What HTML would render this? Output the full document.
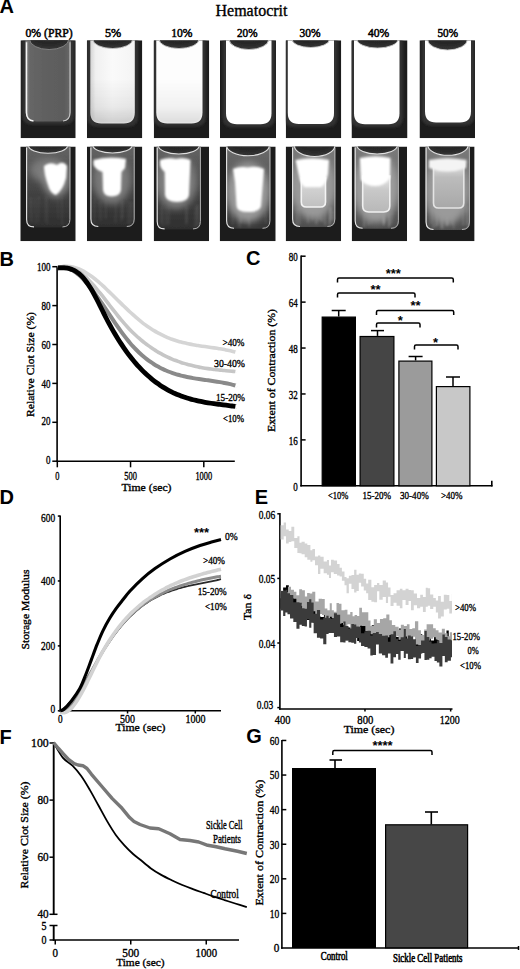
<!DOCTYPE html>
<html><head><meta charset="utf-8"><style>
html,body{margin:0;padding:0;background:#fff;}
svg{display:block;font-family:"Liberation Serif", serif;}
text{stroke:#000;stroke-width:0.35px;}
text[font-weight=bold]{stroke:none;}
</style></head><body>
<svg width="520" height="969" viewBox="0 0 520 969">
<rect width="520" height="969" fill="#fff"/>
<text x="-0.6" y="12.6" font-size="20" text-anchor="start" font-weight="bold" font-family='"Liberation Sans", sans-serif'>A</text>
<text x="-0.4" y="265.5" font-size="20" text-anchor="start" font-weight="bold" font-family='"Liberation Sans", sans-serif'>B</text>
<text x="246" y="265.3" font-size="20" text-anchor="start" font-weight="bold" font-family='"Liberation Sans", sans-serif'>C</text>
<text x="-0.4" y="503.7" font-size="20" text-anchor="start" font-weight="bold" font-family='"Liberation Sans", sans-serif'>D</text>
<text x="254.8" y="503.9" font-size="20" text-anchor="start" font-weight="bold" font-family='"Liberation Sans", sans-serif'>E</text>
<text x="-0.4" y="743.5" font-size="20" text-anchor="start" font-weight="bold" font-family='"Liberation Sans", sans-serif'>F</text>
<text x="246.2" y="743.3" font-size="20" text-anchor="start" font-weight="bold" font-family='"Liberation Sans", sans-serif'>G</text>
<text x="251.5" y="15.5" font-size="16" text-anchor="middle" textLength="72" lengthAdjust="spacingAndGlyphs">Hematocrit</text>
<text x="49.1" y="37" font-size="12" text-anchor="middle" textLength="47.2" lengthAdjust="spacingAndGlyphs" style="stroke-width:0.5px">0% (PRP)</text>
<text x="113.12" y="37" font-size="12" text-anchor="middle" textLength="16.25" lengthAdjust="spacingAndGlyphs" style="stroke-width:0.5px">5%</text>
<text x="181.88" y="37" font-size="12" text-anchor="middle" textLength="21.25" lengthAdjust="spacingAndGlyphs" style="stroke-width:0.5px">10%</text>
<text x="247.25" y="37" font-size="12" text-anchor="middle" textLength="20.5" lengthAdjust="spacingAndGlyphs" style="stroke-width:0.5px">20%</text>
<text x="310" y="37" font-size="12" text-anchor="middle" textLength="21" lengthAdjust="spacingAndGlyphs" style="stroke-width:0.5px">30%</text>
<text x="378.62" y="37" font-size="12" text-anchor="middle" textLength="21.25" lengthAdjust="spacingAndGlyphs" style="stroke-width:0.5px">40%</text>
<text x="447.75" y="37" font-size="12" text-anchor="middle" textLength="20.5" lengthAdjust="spacingAndGlyphs" style="stroke-width:0.5px">50%</text>
<defs>
<filter id="b05" x="-20%" y="-20%" width="140%" height="140%"><feGaussianBlur stdDeviation="0.5"/></filter>
<filter id="b1" x="-20%" y="-20%" width="140%" height="140%"><feGaussianBlur stdDeviation="1"/></filter>
<filter id="b2" x="-30%" y="-30%" width="160%" height="160%"><feGaussianBlur stdDeviation="2"/></filter>
<filter id="b3" x="-40%" y="-40%" width="180%" height="180%"><feGaussianBlur stdDeviation="3.5"/></filter>
<filter id="b5" x="-50%" y="-50%" width="200%" height="200%"><feGaussianBlur stdDeviation="5"/></filter>
<linearGradient id="gPRP" x1="0" y1="0" x2="1" y2="0">
 <stop offset="0" stop-color="#8a8a8a"/><stop offset="0.1" stop-color="#666"/><stop offset="0.5" stop-color="#5f5f5f"/><stop offset="0.85" stop-color="#5c5c5c"/><stop offset="1" stop-color="#6a6a6a"/>
</linearGradient>
<linearGradient id="g5" x1="0" y1="0" x2="1" y2="0">
 <stop offset="0" stop-color="#d4d4d4"/><stop offset="0.12" stop-color="#f0f0f0"/><stop offset="0.5" stop-color="#fafafa"/><stop offset="1" stop-color="#f4f4f4"/>
</linearGradient>
<radialGradient id="gMen" cx="0.5" cy="0.2" r="0.7">
 <stop offset="0" stop-color="#3a3a3a"/><stop offset="0.7" stop-color="#262626"/><stop offset="1" stop-color="#303030"/>
</radialGradient>
<linearGradient id="gBox5" x1="0" y1="0" x2="0" y2="1"><stop offset="0" stop-color="#ececec"/><stop offset="0.4" stop-color="#d0d0d0"/><stop offset="1" stop-color="#c0c0c0"/></linearGradient>
<linearGradient id="gBox6" x1="0" y1="0" x2="0" y2="1"><stop offset="0" stop-color="#e8e8e8"/><stop offset="0.4" stop-color="#c8c8c8"/><stop offset="1" stop-color="#b8b8b8"/></linearGradient>
<linearGradient id="gBox7" x1="0" y1="0" x2="0" y2="1"><stop offset="0" stop-color="#e4e4e4"/><stop offset="0.3" stop-color="#bcbcbc"/><stop offset="1" stop-color="#a8a8a8"/></linearGradient>
<linearGradient id="gShadeV" x1="0" y1="0" x2="0" y2="1"><stop offset="0" stop-color="#000" stop-opacity="0"/><stop offset="0.45" stop-color="#000" stop-opacity="0"/><stop offset="0.8" stop-color="#000" stop-opacity="0.08"/><stop offset="1" stop-color="#000" stop-opacity="0.22"/></linearGradient>
<linearGradient id="gWall" x1="0" y1="0" x2="0" y2="1">
 <stop offset="0" stop-color="#646464"/><stop offset="0.45" stop-color="#484848"/><stop offset="1" stop-color="#2e2e2e"/>
</linearGradient>
<linearGradient id="gWall2" x1="0" y1="0" x2="0" y2="1">
 <stop offset="0" stop-color="#6a6a6a"/><stop offset="0.5" stop-color="#555"/><stop offset="1" stop-color="#363636"/>
</linearGradient>
<linearGradient id="gWall3" x1="0" y1="0" x2="0" y2="1">
 <stop offset="0" stop-color="#7a7a7a"/><stop offset="0.5" stop-color="#6a6a6a"/><stop offset="1" stop-color="#4e4e4e"/>
</linearGradient>
</defs>
<clipPath id="cp1"><rect x="20.5" y="40.3" width="55.2" height="97.9"/></clipPath>
<g clip-path="url(#cp1)">
<rect x="20.5" y="40.3" width="55.2" height="97.9" fill="#1c1c1c"/>
<path d="M22,40.3 L22,114.5 Q22,124.5 32,124.5 L64.5,124.5 Q74.5,124.5 74.5,114.5 L74.5,40.3 Z" fill="#303030" filter="url(#b1)"/>
<path d="M25.5,40.3 L25.5,110.5 Q25.5,121.5 36.5,121.5 L60,121.5 Q71,121.5 71,110.5 L71,40.3 Z" fill="url(#gPRP)" filter="url(#b05)"/>
<path d="M26.5,42.3 L26.5,112.5 Q26.5,120.5 33.5,121" stroke="#f4f4f4" stroke-width="1.5" fill="none" filter="url(#b05)"/>
<path d="M70,42.3 L70,112.5 Q70,120.5 63,121" stroke="#c8c8c8" stroke-width="1.1" fill="none" filter="url(#b05)"/>
<ellipse cx="49.15" cy="39.3" rx="19.65" ry="10.2" fill="url(#gMen)" stroke="#8a8a8a" stroke-width="0.9" filter="url(#b05)"/>
</g>
<clipPath id="cp2"><rect x="86.9" y="40.3" width="55.4" height="97.9"/></clipPath>
<g clip-path="url(#cp2)">
<rect x="86.9" y="40.3" width="55.4" height="97.9" fill="#1c1c1c"/>
<path d="M86.8,40.3 L86.8,116.5 Q86.8,126.5 96.8,126.5 L128.3,126.5 Q138.3,126.5 138.3,116.5 L138.3,40.3 Z" fill="#303030" filter="url(#b1)"/>
<path d="M90.3,40.3 L90.3,112.5 Q90.3,123.5 101.3,123.5 L123.8,123.5 Q134.8,123.5 134.8,112.5 L134.8,40.3 Z" fill="url(#g5)" filter="url(#b05)"/>
<path d="M90.3,40.3 L90.3,112.5 Q90.3,123.5 101.3,123.5 L123.8,123.5 Q134.8,123.5 134.8,112.5 L134.8,40.3 Z" fill="url(#gShadeV)" opacity="0.8" filter="url(#b1)"/>
<ellipse cx="112.75" cy="39.3" rx="20" ry="9.2" fill="url(#gMen)" stroke="#c8c8c8" stroke-width="0.9" filter="url(#b05)"/>
</g>
<clipPath id="cp3"><rect x="153.75" y="40.3" width="55.5" height="97.9"/></clipPath>
<g clip-path="url(#cp3)">
<rect x="153.75" y="40.3" width="55.5" height="97.9" fill="#1c1c1c"/>
<path d="M152.75,40.3 L152.75,116.5 Q152.75,126.5 162.75,126.5 L196,126.5 Q206,126.5 206,116.5 L206,40.3 Z" fill="#303030" filter="url(#b1)"/>
<path d="M156.25,40.3 L156.25,112.5 Q156.25,123.5 167.25,123.5 L191.5,123.5 Q202.5,123.5 202.5,112.5 L202.5,40.3 Z" fill="#fdfdfd" filter="url(#b05)"/>
<path d="M156.25,40.3 L156.25,112.5 Q156.25,123.5 167.25,123.5 L191.5,123.5 Q202.5,123.5 202.5,112.5 L202.5,40.3 Z" fill="url(#gShadeV)" opacity="0.6" filter="url(#b1)"/>
<ellipse cx="179" cy="39.3" rx="20" ry="9.2" fill="url(#gMen)" stroke="#c8c8c8" stroke-width="0.9" filter="url(#b05)"/>
</g>
<clipPath id="cp4"><rect x="220" y="40.3" width="56" height="97.9"/></clipPath>
<g clip-path="url(#cp4)">
<rect x="220" y="40.3" width="56" height="97.9" fill="#1c1c1c"/>
<path d="M222.5,40.3 L222.5,117.25 Q222.5,127.25 232.5,127.25 L265,127.25 Q275,127.25 275,117.25 L275,40.3 Z" fill="#303030" filter="url(#b1)"/>
<path d="M226,40.3 L226,113.25 Q226,124.25 237,124.25 L260.5,124.25 Q271.5,124.25 271.5,113.25 L271.5,40.3 Z" fill="#fff" filter="url(#b05)"/>
<ellipse cx="248.9" cy="39.3" rx="19.9" ry="10.2" fill="url(#gMen)" stroke="#c8c8c8" stroke-width="0.9" filter="url(#b05)"/>
</g>
<clipPath id="cp5"><rect x="285.75" y="40.3" width="55.5" height="97.9"/></clipPath>
<g clip-path="url(#cp5)">
<rect x="285.75" y="40.3" width="55.5" height="97.9" fill="#1c1c1c"/>
<path d="M284.3,40.3 L284.3,117 Q284.3,127 294.3,127 L327.5,127 Q337.5,127 337.5,117 L337.5,40.3 Z" fill="#303030" filter="url(#b1)"/>
<path d="M287.8,40.3 L287.8,113 Q287.8,124 298.8,124 L323,124 Q334,124 334,113 L334,40.3 Z" fill="#fff" filter="url(#b05)"/>
<ellipse cx="310.75" cy="39.3" rx="18.75" ry="8.2" fill="url(#gMen)" stroke="#c8c8c8" stroke-width="0.9" filter="url(#b05)"/>
</g>
<clipPath id="cp6"><rect x="351.5" y="40.3" width="56" height="97.9"/></clipPath>
<g clip-path="url(#cp6)">
<rect x="351.5" y="40.3" width="56" height="97.9" fill="#1c1c1c"/>
<path d="M350.5,40.3 L350.5,117.25 Q350.5,127.25 360.5,127.25 L393,127.25 Q403,127.25 403,117.25 L403,40.3 Z" fill="#303030" filter="url(#b1)"/>
<path d="M354,40.3 L354,113.25 Q354,124.25 365,124.25 L388.5,124.25 Q399.5,124.25 399.5,113.25 L399.5,40.3 Z" fill="#fff" filter="url(#b05)"/>
<ellipse cx="377.5" cy="39.3" rx="20.5" ry="8.7" fill="url(#gMen)" stroke="#c8c8c8" stroke-width="0.9" filter="url(#b05)"/>
</g>
<clipPath id="cp7"><rect x="419.5" y="40.3" width="55.5" height="97.9"/></clipPath>
<g clip-path="url(#cp7)">
<rect x="419.5" y="40.3" width="55.5" height="97.9" fill="#1c1c1c"/>
<path d="M421.5,40.3 L421.5,115.5 Q421.5,125.5 431.5,125.5 L464.5,125.5 Q474.5,125.5 474.5,115.5 L474.5,40.3 Z" fill="#303030" filter="url(#b1)"/>
<path d="M425,40.3 L425,111.5 Q425,122.5 436,122.5 L460,122.5 Q471,122.5 471,111.5 L471,40.3 Z" fill="#fff" filter="url(#b05)"/>
<ellipse cx="447.5" cy="39.3" rx="20" ry="10.7" fill="url(#gMen)" stroke="#c8c8c8" stroke-width="0.9" filter="url(#b05)"/>
</g>
<clipPath id="cp8"><rect x="20.3" y="146.5" width="55.4" height="94.7"/></clipPath>
<g clip-path="url(#cp8)">
<rect x="20.3" y="146.5" width="55.4" height="94.7" fill="#1c1c1c"/>
<path d="M26,146.5 L26,219.4 Q26,227.4 34,227.4 L62.5,227.4 Q70.5,227.4 70.5,219.4 L70.5,146.5 Z" fill="url(#gWall)" filter="url(#b05)"/>
<clipPath id="ct9"><path d="M26,143.5 L26,219.4 Q26,227.4 34,227.4 L62.5,227.4 Q70.5,227.4 70.5,219.4 L70.5,143.5 Z"/></clipPath>
<g clip-path="url(#ct9)">
<g filter="url(#b1)"><line x1="35.11" y1="198.39" x2="35.63" y2="223.47" stroke="#777" stroke-width="1.79" opacity="0.18"/><line x1="47.08" y1="197.61" x2="47.66" y2="224.44" stroke="#777" stroke-width="1.23" opacity="0.18"/><line x1="61.76" y1="196.73" x2="62.28" y2="224.99" stroke="#777" stroke-width="1.73" opacity="0.18"/><line x1="57.42" y1="195.92" x2="58.31" y2="219.59" stroke="#777" stroke-width="1.24" opacity="0.18"/><line x1="30.97" y1="197.17" x2="31.85" y2="222.71" stroke="#777" stroke-width="1.46" opacity="0.18"/><line x1="46.04" y1="195.12" x2="45.48" y2="222.37" stroke="#777" stroke-width="1.79" opacity="0.18"/><line x1="38.86" y1="195.92" x2="38.29" y2="222.24" stroke="#777" stroke-width="1.55" opacity="0.18"/><line x1="30.82" y1="198.35" x2="30.93" y2="221.15" stroke="#777" stroke-width="1.42" opacity="0.18"/></g>
<ellipse cx="47" cy="170" rx="17" ry="12" fill="#7a7a7a" filter="url(#b3)"/><ellipse cx="56" cy="180" rx="13" ry="17" fill="#8a8a8a" filter="url(#b3)"/><path d="M44,166 Q50,161 57,165 Q63,160 67,166 L66,178 Q63,190 56,195 Q50,193 48,185 Q44,174 44,166 Z" fill="#fff" filter="url(#b1)"/>
</g>
<path d="M26.6,147.5 L26.6,219.4 Q26.6,226.9 34,226.9" stroke="#e6e6e6" stroke-width="1.1" fill="none" filter="url(#b05)"/>
<path d="M69.9,147.5 L69.9,219.4 Q69.9,226.9 62.5,226.9" stroke="#b0b0b0" stroke-width="1" fill="none" filter="url(#b05)"/>
<path d="M34,226.9 L62.5,226.9" stroke="#777" stroke-width="0.9" fill="none" filter="url(#b05)"/>
<ellipse cx="48" cy="145.5" rx="19.6" ry="7.7" fill="url(#gMen)" stroke="#e0e0e0" stroke-width="1.1" filter="url(#b05)"/>
</g>
<clipPath id="cp10"><rect x="86.9" y="146.5" width="55.4" height="94.7"/></clipPath>
<g clip-path="url(#cp10)">
<rect x="86.9" y="146.5" width="55.4" height="94.7" fill="#1c1c1c"/>
<path d="M90.3,146.5 L90.3,219 Q90.3,227 98.3,227 L126.8,227 Q134.8,227 134.8,219 L134.8,146.5 Z" fill="url(#gWall)" filter="url(#b05)"/>
<clipPath id="ct11"><path d="M90.3,143.5 L90.3,219 Q90.3,227 98.3,227 L126.8,227 Q134.8,227 134.8,219 L134.8,143.5 Z"/></clipPath>
<g clip-path="url(#ct11)">
<g filter="url(#b1)"><line x1="130.29" y1="201.79" x2="129.4" y2="224.49" stroke="#777" stroke-width="2.2" opacity="0.18"/><line x1="121.7" y1="200.68" x2="121.32" y2="221.36" stroke="#777" stroke-width="1.93" opacity="0.18"/><line x1="115.67" y1="198.63" x2="115.53" y2="222.64" stroke="#777" stroke-width="2.07" opacity="0.18"/><line x1="131.8" y1="201.8" x2="131.89" y2="222.33" stroke="#777" stroke-width="1.52" opacity="0.18"/><line x1="94.4" y1="198.11" x2="94.33" y2="223.09" stroke="#777" stroke-width="1.66" opacity="0.18"/><line x1="127.78" y1="200.1" x2="127.9" y2="223.58" stroke="#777" stroke-width="1.23" opacity="0.18"/><line x1="105.68" y1="198.55" x2="105.7" y2="219.01" stroke="#777" stroke-width="2.01" opacity="0.18"/><line x1="100.09" y1="201.57" x2="100.69" y2="220.59" stroke="#777" stroke-width="2.29" opacity="0.18"/><line x1="122.75" y1="201.16" x2="122.46" y2="219.11" stroke="#777" stroke-width="2.35" opacity="0.18"/></g>
<ellipse cx="112" cy="180" rx="19" ry="24" fill="#7a7a7a" filter="url(#b3)"/><path d="M93.5,160 Q108,156 126,159 L125,168 L121.5,172 L121,190 Q120,196.5 111.5,196.5 Q104,196.5 103,190 L102.5,172 Q96,170 93.5,165 Z" fill="#fff" filter="url(#b1)"/>
</g>
<path d="M90.9,147.5 L90.9,219 Q90.9,226.5 98.3,226.5" stroke="#e6e6e6" stroke-width="1.1" fill="none" filter="url(#b05)"/>
<path d="M134.2,147.5 L134.2,219 Q134.2,226.5 126.8,226.5" stroke="#b0b0b0" stroke-width="1" fill="none" filter="url(#b05)"/>
<path d="M98.3,226.5 L126.8,226.5" stroke="#777" stroke-width="0.9" fill="none" filter="url(#b05)"/>
<ellipse cx="112.5" cy="145.5" rx="19.5" ry="7.5" fill="url(#gMen)" stroke="#e0e0e0" stroke-width="1.1" filter="url(#b05)"/>
</g>
<clipPath id="cp12"><rect x="153.7" y="146.5" width="55.4" height="94.7"/></clipPath>
<g clip-path="url(#cp12)">
<rect x="153.7" y="146.5" width="55.4" height="94.7" fill="#1c1c1c"/>
<path d="M156.6,146.5 L156.6,221.4 Q156.6,229.4 164.6,229.4 L193,229.4 Q201,229.4 201,221.4 L201,146.5 Z" fill="url(#gWall)" filter="url(#b05)"/>
<clipPath id="ct13"><path d="M156.6,143.5 L156.6,221.4 Q156.6,229.4 164.6,229.4 L193,229.4 Q201,229.4 201,221.4 L201,143.5 Z"/></clipPath>
<g clip-path="url(#ct13)">
<g filter="url(#b1)"><line x1="169.04" y1="205.18" x2="168.78" y2="224.38" stroke="#888" stroke-width="1.95" opacity="0.18"/><line x1="162.49" y1="203.05" x2="163.17" y2="226.44" stroke="#888" stroke-width="1.48" opacity="0.18"/><line x1="197.83" y1="204.88" x2="198.51" y2="225.14" stroke="#888" stroke-width="1.97" opacity="0.18"/><line x1="165.72" y1="205.54" x2="166.46" y2="224.86" stroke="#888" stroke-width="2.09" opacity="0.18"/><line x1="185.51" y1="203.26" x2="186.03" y2="224.45" stroke="#888" stroke-width="1.56" opacity="0.18"/><line x1="161.18" y1="206.46" x2="161.12" y2="223.69" stroke="#888" stroke-width="2.25" opacity="0.18"/><line x1="187.14" y1="206.68" x2="186.93" y2="223.19" stroke="#888" stroke-width="1.73" opacity="0.18"/><line x1="195.55" y1="206.52" x2="194.75" y2="227.18" stroke="#888" stroke-width="1.46" opacity="0.18"/><line x1="196.69" y1="204.74" x2="196.94" y2="226.19" stroke="#888" stroke-width="1.81" opacity="0.18"/></g>
<ellipse cx="176" cy="182" rx="21" ry="27" fill="#7e7e7e" filter="url(#b3)"/><path d="M160,160 Q168,157 176,159 Q184,157 190.5,160 L190,172 L189,195 Q188,202 177,202 Q166,202 165,195 L164.7,172 Q160,168 160,164 Z" fill="#fff" filter="url(#b1)"/>
</g>
<path d="M157.2,147.5 L157.2,221.4 Q157.2,228.9 164.6,228.9" stroke="#e6e6e6" stroke-width="1.1" fill="none" filter="url(#b05)"/>
<path d="M200.4,147.5 L200.4,221.4 Q200.4,228.9 193,228.9" stroke="#b0b0b0" stroke-width="1" fill="none" filter="url(#b05)"/>
<path d="M164.6,228.9 L193,228.9" stroke="#777" stroke-width="0.9" fill="none" filter="url(#b05)"/>
<ellipse cx="178.8" cy="145.5" rx="20.5" ry="8.5" fill="url(#gMen)" stroke="#e0e0e0" stroke-width="1.1" filter="url(#b05)"/>
</g>
<clipPath id="cp14"><rect x="219.7" y="146.5" width="56" height="94.7"/></clipPath>
<g clip-path="url(#cp14)">
<rect x="219.7" y="146.5" width="56" height="94.7" fill="#1c1c1c"/>
<path d="M226,146.5 L226,220.8 Q226,228.8 234,228.8 L262.5,228.8 Q270.5,228.8 270.5,220.8 L270.5,146.5 Z" fill="url(#gWall2)" filter="url(#b05)"/>
<clipPath id="ct15"><path d="M226,143.5 L226,220.8 Q226,228.8 234,228.8 L262.5,228.8 Q270.5,228.8 270.5,220.8 L270.5,143.5 Z"/></clipPath>
<g clip-path="url(#ct15)">
<g filter="url(#b1)"><line x1="238.21" y1="205.41" x2="238" y2="227.07" stroke="#999" stroke-width="1.28" opacity="0.21"/><line x1="244.66" y1="208.67" x2="245.26" y2="223.41" stroke="#999" stroke-width="1.47" opacity="0.21"/><line x1="249.93" y1="206.11" x2="249.28" y2="227.36" stroke="#999" stroke-width="1.46" opacity="0.21"/><line x1="265.17" y1="208.32" x2="265.78" y2="223.2" stroke="#999" stroke-width="1.43" opacity="0.21"/><line x1="241.08" y1="207.51" x2="241.55" y2="222.87" stroke="#999" stroke-width="2.26" opacity="0.21"/><line x1="232.38" y1="207.42" x2="232.73" y2="224.96" stroke="#999" stroke-width="1.41" opacity="0.21"/><line x1="247.47" y1="205.36" x2="248.34" y2="222.81" stroke="#999" stroke-width="1.86" opacity="0.21"/><line x1="240.71" y1="208.64" x2="240.85" y2="222.71" stroke="#999" stroke-width="2.22" opacity="0.21"/><line x1="248.83" y1="206.66" x2="249.02" y2="225.41" stroke="#999" stroke-width="1.39" opacity="0.21"/><line x1="240.9" y1="208.25" x2="239.99" y2="227.72" stroke="#999" stroke-width="1.95" opacity="0.21"/></g>
<ellipse cx="248" cy="192" rx="22" ry="30" fill="#999" filter="url(#b3)"/><path d="M233,169 Q240,166 248,167.5 Q256,165.5 264,169 L263,182 L261,206 Q260,212 248,212 Q237,212 236.5,206 L235,182 Z" fill="#fff" filter="url(#b1)"/>
</g>
<path d="M226.6,147.5 L226.6,220.8 Q226.6,228.3 234,228.3" stroke="#e6e6e6" stroke-width="1.1" fill="none" filter="url(#b05)"/>
<path d="M269.9,147.5 L269.9,220.8 Q269.9,228.3 262.5,228.3" stroke="#b0b0b0" stroke-width="1" fill="none" filter="url(#b05)"/>
<path d="M234,228.3 L262.5,228.3" stroke="#777" stroke-width="0.9" fill="none" filter="url(#b05)"/>
<ellipse cx="248" cy="145.5" rx="21.3" ry="10.3" fill="url(#gMen)" stroke="#e0e0e0" stroke-width="1.1" filter="url(#b05)"/>
</g>
<clipPath id="cp16"><rect x="285.7" y="146.5" width="55.4" height="94.7"/></clipPath>
<g clip-path="url(#cp16)">
<rect x="285.7" y="146.5" width="55.4" height="94.7" fill="#1c1c1c"/>
<path d="M292,146.5 L292,219 Q292,227 300,227 L327.4,227 Q335.4,227 335.4,219 L335.4,146.5 Z" fill="url(#gWall3)" filter="url(#b05)"/>
<clipPath id="ct17"><path d="M292,143.5 L292,219 Q292,227 300,227 L327.4,227 Q335.4,227 335.4,219 L335.4,143.5 Z"/></clipPath>
<g clip-path="url(#ct17)">
<g filter="url(#b1)"><line x1="318.92" y1="209.97" x2="319.51" y2="220.35" stroke="#bbb" stroke-width="2.09" opacity="0.27"/><line x1="330.89" y1="207.12" x2="330.82" y2="220.34" stroke="#bbb" stroke-width="1.98" opacity="0.27"/><line x1="330.04" y1="207.45" x2="329.97" y2="224.52" stroke="#bbb" stroke-width="1.85" opacity="0.27"/><line x1="316.96" y1="207.05" x2="316.39" y2="224.32" stroke="#bbb" stroke-width="2.3" opacity="0.27"/><line x1="324.63" y1="207.64" x2="325.22" y2="225.17" stroke="#bbb" stroke-width="1.94" opacity="0.27"/><line x1="299.07" y1="207.01" x2="299.81" y2="224.74" stroke="#bbb" stroke-width="1.46" opacity="0.27"/><line x1="333.3" y1="210.49" x2="332.88" y2="220.23" stroke="#bbb" stroke-width="1.85" opacity="0.27"/><line x1="321.11" y1="207.82" x2="322" y2="221.86" stroke="#bbb" stroke-width="2.36" opacity="0.27"/><line x1="329.75" y1="208.2" x2="329.47" y2="225" stroke="#bbb" stroke-width="1.37" opacity="0.27"/><line x1="296.61" y1="208.21" x2="296.81" y2="225.98" stroke="#bbb" stroke-width="2.01" opacity="0.27"/><line x1="307.52" y1="208.24" x2="308.15" y2="223.12" stroke="#bbb" stroke-width="1.58" opacity="0.27"/><line x1="313.25" y1="209.82" x2="312.36" y2="220.15" stroke="#bbb" stroke-width="1.23" opacity="0.27"/></g>
<ellipse cx="313" cy="186" rx="23" ry="33" fill="#9a9a9a" filter="url(#b3)"/><path d="M301.3,178 L301.3,202 Q301.3,207 306.3,207 L320.5,207 Q325.5,207 325.5,202 L325.5,178 Z" fill="url(#gBox5)" stroke="#f4f4f4" stroke-width="1.6" filter="url(#b05)"/><path d="M295.5,160 Q313,157 329,160 L328,174 Q326,184 321,187 L305,187 Q300,184 299,176 Z" fill="#fff" filter="url(#b1)"/>
</g>
<path d="M292.6,147.5 L292.6,219 Q292.6,226.5 300,226.5" stroke="#e6e6e6" stroke-width="1.1" fill="none" filter="url(#b05)"/>
<path d="M334.8,147.5 L334.8,219 Q334.8,226.5 327.4,226.5" stroke="#b0b0b0" stroke-width="1" fill="none" filter="url(#b05)"/>
<path d="M300,226.5 L327.4,226.5" stroke="#777" stroke-width="0.9" fill="none" filter="url(#b05)"/>
<ellipse cx="314.6" cy="145.5" rx="20.2" ry="11" fill="url(#gMen)" stroke="#e0e0e0" stroke-width="1.1" filter="url(#b05)"/>
</g>
<clipPath id="cp18"><rect x="351.7" y="146.5" width="55.4" height="94.7"/></clipPath>
<g clip-path="url(#cp18)">
<rect x="351.7" y="146.5" width="55.4" height="94.7" fill="#1c1c1c"/>
<path d="M354.6,146.5 L354.6,220.8 Q354.6,228.8 362.6,228.8 L391,228.8 Q399,228.8 399,220.8 L399,146.5 Z" fill="url(#gWall3)" filter="url(#b05)"/>
<clipPath id="ct19"><path d="M354.6,143.5 L354.6,220.8 Q354.6,228.8 362.6,228.8 L391,228.8 Q399,228.8 399,220.8 L399,143.5 Z"/></clipPath>
<g clip-path="url(#ct19)">
<g filter="url(#b1)"><line x1="388.73" y1="213.29" x2="388.7" y2="226.43" stroke="#bbb" stroke-width="1.2" opacity="0.27"/><line x1="383.51" y1="211.88" x2="384.03" y2="225.76" stroke="#bbb" stroke-width="2.12" opacity="0.27"/><line x1="367.91" y1="213.21" x2="368.37" y2="225.52" stroke="#bbb" stroke-width="1.85" opacity="0.27"/><line x1="384.28" y1="210.77" x2="384.39" y2="223.17" stroke="#bbb" stroke-width="1.52" opacity="0.27"/><line x1="389.13" y1="212.74" x2="389.82" y2="225.99" stroke="#bbb" stroke-width="1.31" opacity="0.27"/><line x1="389.01" y1="213.22" x2="388.9" y2="227.44" stroke="#bbb" stroke-width="1.44" opacity="0.27"/><line x1="382.4" y1="211.16" x2="383.3" y2="224.47" stroke="#bbb" stroke-width="1.44" opacity="0.27"/><line x1="383.22" y1="211.44" x2="384.08" y2="222.54" stroke="#bbb" stroke-width="1.82" opacity="0.27"/><line x1="382.78" y1="212.79" x2="383.39" y2="222.14" stroke="#bbb" stroke-width="1.23" opacity="0.27"/><line x1="371.46" y1="212.41" x2="371.06" y2="224.47" stroke="#bbb" stroke-width="1.31" opacity="0.27"/><line x1="392.2" y1="212.1" x2="391.44" y2="224.02" stroke="#bbb" stroke-width="1.57" opacity="0.27"/><line x1="364.85" y1="211.93" x2="364.13" y2="226.74" stroke="#bbb" stroke-width="2.24" opacity="0.27"/></g>
<ellipse cx="376" cy="188" rx="23" ry="35" fill="#9c9c9c" filter="url(#b3)"/><path d="M362.7,176 L362.7,206 Q362.7,212 368.7,212 L383.8,212 Q389.8,212 389.8,206 L389.8,176 Z" fill="url(#gBox6)" stroke="#f0f0f0" stroke-width="1.6" filter="url(#b05)"/><path d="M359.8,158 Q376,155 390.4,158 L390,178 Q384,186 376,186 Q366,186 361,180 Z" fill="#fff" filter="url(#b1)"/>
</g>
<path d="M355.2,147.5 L355.2,220.8 Q355.2,228.3 362.6,228.3" stroke="#e6e6e6" stroke-width="1.1" fill="none" filter="url(#b05)"/>
<path d="M398.4,147.5 L398.4,220.8 Q398.4,228.3 391,228.3" stroke="#b0b0b0" stroke-width="1" fill="none" filter="url(#b05)"/>
<path d="M362.6,228.3 L391,228.3" stroke="#777" stroke-width="0.9" fill="none" filter="url(#b05)"/>
<ellipse cx="377.15" cy="145.5" rx="20.15" ry="8.5" fill="url(#gMen)" stroke="#e0e0e0" stroke-width="1.1" filter="url(#b05)"/>
</g>
<clipPath id="cp20"><rect x="419.4" y="146.5" width="55.2" height="94.7"/></clipPath>
<g clip-path="url(#cp20)">
<rect x="419.4" y="146.5" width="55.2" height="94.7" fill="#1c1c1c"/>
<path d="M425.5,146.5 L425.5,222 Q425.5,230 433.5,230 L462,230 Q470,230 470,222 L470,146.5 Z" fill="url(#gWall3)" filter="url(#b05)"/>
<clipPath id="ct21"><path d="M425.5,143.5 L425.5,222 Q425.5,230 433.5,230 L462,230 Q470,230 470,222 L470,143.5 Z"/></clipPath>
<g clip-path="url(#ct21)">
<g filter="url(#b1)"><line x1="440.95" y1="206.6" x2="441.26" y2="228.57" stroke="#bbb" stroke-width="1.84" opacity="0.3"/><line x1="442.63" y1="206.23" x2="442.64" y2="228.78" stroke="#bbb" stroke-width="1.72" opacity="0.3"/><line x1="430.79" y1="206.36" x2="430.64" y2="224.04" stroke="#bbb" stroke-width="1.35" opacity="0.3"/><line x1="436.93" y1="208.51" x2="437.82" y2="225.54" stroke="#bbb" stroke-width="1.68" opacity="0.3"/><line x1="467.05" y1="206.19" x2="467.77" y2="227.26" stroke="#bbb" stroke-width="1.37" opacity="0.3"/><line x1="432.71" y1="207.23" x2="433.34" y2="227.92" stroke="#bbb" stroke-width="1.9" opacity="0.3"/><line x1="453.56" y1="207.49" x2="453.65" y2="228.62" stroke="#bbb" stroke-width="1.27" opacity="0.3"/><line x1="436.24" y1="208.72" x2="436.09" y2="227.12" stroke="#bbb" stroke-width="1.9" opacity="0.3"/><line x1="446.13" y1="207.2" x2="446.72" y2="224.81" stroke="#bbb" stroke-width="1.49" opacity="0.3"/><line x1="450.98" y1="208.1" x2="451.73" y2="224.62" stroke="#bbb" stroke-width="1.55" opacity="0.3"/><line x1="467.21" y1="206.47" x2="467.04" y2="224.46" stroke="#bbb" stroke-width="1.38" opacity="0.3"/><line x1="447.56" y1="206.16" x2="447.89" y2="224.41" stroke="#bbb" stroke-width="1.89" opacity="0.3"/><line x1="463.02" y1="207.25" x2="463.41" y2="225.43" stroke="#bbb" stroke-width="1.9" opacity="0.3"/><line x1="446.25" y1="209.36" x2="447.14" y2="226.16" stroke="#bbb" stroke-width="2" opacity="0.3"/></g>
<ellipse cx="447" cy="190" rx="23" ry="34" fill="#9a9a9a" filter="url(#b3)"/><path d="M433.5,164 L433.5,203 Q433.5,208 438.5,208 L458.8,208 Q463.8,208 463.8,203 L463.8,164 Z" fill="url(#gBox7)" stroke="#e4e4e4" stroke-width="1.6" filter="url(#b05)"/><path d="M429,160 Q447,157 466.5,160 L466,168 Q447,175 429,168 Z" fill="#f4f4f4" filter="url(#b1)"/>
</g>
<path d="M426.1,147.5 L426.1,222 Q426.1,229.5 433.5,229.5" stroke="#e6e6e6" stroke-width="1.1" fill="none" filter="url(#b05)"/>
<path d="M469.4,147.5 L469.4,222 Q469.4,229.5 462,229.5" stroke="#b0b0b0" stroke-width="1" fill="none" filter="url(#b05)"/>
<path d="M433.5,229.5 L462,229.5" stroke="#777" stroke-width="0.9" fill="none" filter="url(#b05)"/>
<ellipse cx="448" cy="145.5" rx="20" ry="9.8" fill="url(#gMen)" stroke="#e0e0e0" stroke-width="1.1" filter="url(#b05)"/>
</g>
<line x1="57.1" y1="266" x2="57.1" y2="461.9" stroke="#000" stroke-width="1.6"/>
<line x1="56.3" y1="461.2" x2="234.8" y2="461.2" stroke="#000" stroke-width="1.6"/>
<line x1="52.3" y1="461.2" x2="57.1" y2="461.2" stroke="#000" stroke-width="1.5"/>
<line x1="52.3" y1="422.3" x2="57.1" y2="422.3" stroke="#000" stroke-width="1.5"/>
<line x1="52.3" y1="383.4" x2="57.1" y2="383.4" stroke="#000" stroke-width="1.5"/>
<line x1="52.3" y1="344.5" x2="57.1" y2="344.5" stroke="#000" stroke-width="1.5"/>
<line x1="52.3" y1="305.6" x2="57.1" y2="305.6" stroke="#000" stroke-width="1.5"/>
<line x1="52.3" y1="266.7" x2="57.1" y2="266.7" stroke="#000" stroke-width="1.5"/>
<line x1="57.3" y1="461.2" x2="57.3" y2="467.3" stroke="#000" stroke-width="1.5"/>
<line x1="130.55" y1="461.2" x2="130.55" y2="467.3" stroke="#000" stroke-width="1.5"/>
<line x1="203.8" y1="461.2" x2="203.8" y2="467.3" stroke="#000" stroke-width="1.5"/>
<text x="50.6" y="463.9" font-size="11.5" text-anchor="end" textLength="4.5" lengthAdjust="spacingAndGlyphs">0</text>
<text x="50.6" y="425.4" font-size="11.5" text-anchor="end" textLength="9" lengthAdjust="spacingAndGlyphs">20</text>
<text x="50.6" y="388.1" font-size="11.5" text-anchor="end" textLength="9" lengthAdjust="spacingAndGlyphs">40</text>
<text x="50.6" y="349" font-size="11.5" text-anchor="end" textLength="9" lengthAdjust="spacingAndGlyphs">60</text>
<text x="50.6" y="310.4" font-size="11.5" text-anchor="end" textLength="9" lengthAdjust="spacingAndGlyphs">80</text>
<text x="50.6" y="270.7" font-size="11.5" text-anchor="end" textLength="13.5" lengthAdjust="spacingAndGlyphs">100</text>
<text x="57.3" y="479.8" font-size="11.5" text-anchor="middle" textLength="4.2" lengthAdjust="spacingAndGlyphs">0</text>
<text x="130.55" y="479.8" font-size="11.5" text-anchor="middle" textLength="12.6" lengthAdjust="spacingAndGlyphs">500</text>
<text x="203.8" y="479.8" font-size="11.5" text-anchor="middle" textLength="16.8" lengthAdjust="spacingAndGlyphs">1000</text>
<text x="146.5" y="490.5" font-size="11" text-anchor="middle" textLength="50" lengthAdjust="spacingAndGlyphs">Time (sec)</text>
<text x="33.5" y="364.5" font-size="11" text-anchor="middle" textLength="105" lengthAdjust="spacingAndGlyphs" transform="rotate(-90 33.5 364.5)">Relative Clot Size (%)</text>
<path d="M58,267.86 C58.5,267.71 60,267.18 61,266.94 C62,266.7 63,266.52 64,266.41 C65,266.3 66,266.25 67,266.26 C68,266.27 69,266.34 70,266.46 C71,266.58 72,266.76 73,266.99 C74,267.22 75,267.51 76,267.84 C77,268.17 78,268.56 79,268.98 C80,269.4 81,269.87 82,270.38 C83,270.89 84,271.45 85,272.04 C86,272.63 87,273.26 88,273.92 C89,274.58 90,275.27 91,276 C92,276.73 93,277.49 94,278.27 C95,279.05 96,279.87 97,280.7 C98,281.53 99,282.38 100,283.26 C101,284.13 102,285.04 103,285.95 C104,286.86 105,287.79 106,288.73 C107,289.67 108,290.63 109,291.59 C110,292.55 111,293.52 112,294.5 C113,295.48 114,296.46 115,297.45 C116,298.44 117,299.43 118,300.41 C119,301.39 120,302.37 121,303.35 C122,304.33 123,305.31 124,306.27 C125,307.23 126,308.19 127,309.14 C128,310.09 129,311.02 130,311.95 C131,312.88 132,313.79 133,314.69 C134,315.59 135,316.47 136,317.34 C137,318.2 138,319.05 139,319.88 C140,320.71 141,321.52 142,322.3 C143,323.08 144,323.84 145,324.58 C146,325.32 147,326.04 148,326.73 C149,327.42 150,328.09 151,328.73 C152,329.38 153,330 154,330.6 C155,331.2 156,331.78 157,332.34 C158,332.9 159,333.43 160,333.95 C161,334.47 162,334.96 163,335.44 C164,335.92 165,336.37 166,336.81 C167,337.25 168,337.67 169,338.07 C170,338.47 171,338.86 172,339.22 C173,339.59 174,339.93 175,340.26 C176,340.59 177,340.9 178,341.2 C179,341.5 180,341.78 181,342.05 C182,342.32 183,342.58 184,342.82 C185,343.06 186,343.29 187,343.51 C188,343.73 189,343.93 190,344.13 C191,344.33 192,344.52 193,344.7 C194,344.88 195,345.05 196,345.22 C197,345.39 198,345.54 199,345.7 C200,345.86 201,346.01 202,346.16 C203,346.31 204,346.45 205,346.59 C206,346.73 207,346.88 208,347.02 C209,347.16 210,347.31 211,347.45 C212,347.59 213,347.73 214,347.88 C215,348.03 216,348.18 217,348.34 C218,348.5 219,348.65 220,348.82 C221,348.99 222,349.16 223,349.34 C224,349.52 225,349.71 226,349.91 C227,350.11 228,350.31 229,350.53 C230,350.75 231,350.98 232,351.22 C233,351.46 234.43,351.84 235,351.98 C235.57,352.12 235.33,352.07 235.4,352.09" stroke="#d5d5d5" stroke-width="3.6" fill="none" stroke-linecap="butt"/>
<path d="M58,267.96 C58.5,267.8 60,267.21 61,266.98 C62,266.75 63,266.61 64,266.56 C65,266.51 66,266.55 67,266.67 C68,266.79 69,266.99 70,267.26 C71,267.53 72,267.9 73,268.32 C74,268.74 75,269.24 76,269.8 C77,270.36 78,270.99 79,271.67 C80,272.35 81,273.1 82,273.9 C83,274.7 84,275.56 85,276.46 C86,277.36 87,278.32 88,279.31 C89,280.3 90,281.35 91,282.42 C92,283.5 93,284.62 94,285.76 C95,286.9 96,288.08 97,289.28 C98,290.48 99,291.71 100,292.95 C101,294.19 102,295.46 103,296.73 C104,298 105,299.3 106,300.59 C107,301.88 108,303.18 109,304.48 C110,305.78 111,307.08 112,308.37 C113,309.66 114,310.95 115,312.22 C116,313.49 117,314.76 118,316 C119,317.24 120,318.47 121,319.66 C122,320.85 123,322.02 124,323.16 C125,324.3 126,325.42 127,326.5 C128,327.58 129,328.64 130,329.67 C131,330.7 132,331.7 133,332.67 C134,333.64 135,334.6 136,335.52 C137,336.44 138,337.34 139,338.21 C140,339.08 141,339.94 142,340.76 C143,341.58 144,342.38 145,343.16 C146,343.94 147,344.69 148,345.42 C149,346.15 150,346.86 151,347.55 C152,348.24 153,348.9 154,349.54 C155,350.19 156,350.81 157,351.42 C158,352.03 159,352.61 160,353.17 C161,353.73 162,354.27 163,354.8 C164,355.33 165,355.84 166,356.33 C167,356.82 168,357.3 169,357.75 C170,358.2 171,358.64 172,359.06 C173,359.48 174,359.89 175,360.28 C176,360.67 177,361.05 178,361.41 C179,361.77 180,362.12 181,362.45 C182,362.78 183,363.09 184,363.4 C185,363.7 186,364 187,364.28 C188,364.56 189,364.83 190,365.09 C191,365.35 192,365.59 193,365.82 C194,366.05 195,366.27 196,366.49 C197,366.71 198,366.92 199,367.11 C200,367.31 201,367.48 202,367.66 C203,367.84 204,368.01 205,368.17 C206,368.33 207,368.48 208,368.63 C209,368.78 210,368.93 211,369.06 C212,369.19 213,369.32 214,369.44 C215,369.56 216,369.69 217,369.8 C218,369.92 219,370.02 220,370.13 C221,370.24 222,370.33 223,370.43 C224,370.53 225,370.62 226,370.72 C227,370.82 228,370.91 229,371 C230,371.09 231,371.18 232,371.27 C233,371.36 234.43,371.48 235,371.53 C235.57,371.58 235.33,371.56 235.4,371.57" stroke="#c6c6c6" stroke-width="3.6" fill="none" stroke-linecap="butt"/>
<path d="M58,267.55 C58.5,267.47 60,267.11 61,267.04 C62,266.97 63,266.99 64,267.11 C65,267.23 66,267.45 67,267.75 C68,268.05 69,268.44 70,268.9 C71,269.36 72,269.9 73,270.52 C74,271.13 75,271.83 76,272.59 C77,273.35 78,274.18 79,275.07 C80,275.96 81,276.91 82,277.91 C83,278.91 84,279.97 85,281.08 C86,282.19 87,283.35 88,284.55 C89,285.75 90,286.99 91,288.27 C92,289.55 93,290.87 94,292.21 C95,293.55 96,294.93 97,296.33 C98,297.73 99,299.15 100,300.59 C101,302.03 102,303.49 103,304.96 C104,306.43 105,307.91 106,309.4 C107,310.88 108,312.38 109,313.87 C110,315.36 111,316.86 112,318.34 C113,319.82 114,321.3 115,322.76 C116,324.22 117,325.67 118,327.1 C119,328.53 120,329.95 121,331.33 C122,332.71 123,334.07 124,335.4 C125,336.72 126,338.02 127,339.28 C128,340.53 129,341.75 130,342.93 C131,344.11 132,345.24 133,346.34 C134,347.44 135,348.49 136,349.51 C137,350.53 138,351.52 139,352.47 C140,353.42 141,354.32 142,355.2 C143,356.08 144,356.93 145,357.74 C146,358.55 147,359.32 148,360.07 C149,360.82 150,361.53 151,362.22 C152,362.91 153,363.57 154,364.2 C155,364.83 156,365.43 157,366 C158,366.57 159,367.12 160,367.65 C161,368.17 162,368.67 163,369.15 C164,369.63 165,370.08 166,370.51 C167,370.94 168,371.36 169,371.75 C170,372.14 171,372.51 172,372.86 C173,373.21 174,373.54 175,373.86 C176,374.18 177,374.48 178,374.77 C179,375.06 180,375.32 181,375.58 C182,375.84 183,376.08 184,376.31 C185,376.54 186,376.75 187,376.96 C188,377.17 189,377.37 190,377.56 C191,377.75 192,377.93 193,378.1 C194,378.27 195,378.44 196,378.6 C197,378.76 198,378.91 199,379.06 C200,379.21 201,379.36 202,379.5 C203,379.64 204,379.78 205,379.92 C206,380.06 207,380.2 208,380.34 C209,380.48 210,380.62 211,380.76 C212,380.9 213,381.04 214,381.19 C215,381.34 216,381.49 217,381.65 C218,381.81 219,381.97 220,382.14 C221,382.31 222,382.49 223,382.67 C224,382.86 225,383.05 226,383.25 C227,383.45 228,383.66 229,383.89 C230,384.12 231,384.36 232,384.61 C233,384.86 234.43,385.25 235,385.4 C235.57,385.55 235.33,385.49 235.4,385.51" stroke="#8a8a8a" stroke-width="4" fill="none" stroke-linecap="butt"/>
<path d="M58,268 C58.5,267.98 60,267.88 61,267.87 C62,267.86 63,267.86 64,267.92 C65,267.98 66,268.06 67,268.22 C68,268.38 69,268.58 70,268.86 C71,269.14 72,269.48 73,269.91 C74,270.35 75,270.86 76,271.47 C77,272.09 78,272.78 79,273.6 C80,274.42 81,275.35 82,276.4 C83,277.45 84,278.63 85,279.91 C86,281.19 87,282.58 88,284.07 C89,285.56 90,287.15 91,288.82 C92,290.49 93,292.26 94,294.08 C95,295.9 96,297.82 97,299.76 C98,301.7 99,303.71 100,305.71 C101,307.71 102,309.75 103,311.75 C104,313.75 105,315.76 106,317.71 C107,319.66 108,321.57 109,323.43 C110,325.29 111,327.11 112,328.88 C113,330.65 114,332.38 115,334.07 C116,335.76 117,337.41 118,339.01 C119,340.61 120,342.17 121,343.69 C122,345.21 123,346.69 124,348.13 C125,349.57 126,350.97 127,352.34 C128,353.7 129,355.03 130,356.32 C131,357.61 132,358.87 133,360.09 C134,361.31 135,362.48 136,363.63 C137,364.78 138,365.89 139,366.97 C140,368.05 141,369.11 142,370.12 C143,371.13 144,372.11 145,373.06 C146,374.01 147,374.94 148,375.83 C149,376.72 150,377.58 151,378.41 C152,379.24 153,380.04 154,380.82 C155,381.6 156,382.35 157,383.07 C158,383.79 159,384.49 160,385.16 C161,385.83 162,386.48 163,387.1 C164,387.72 165,388.31 166,388.89 C167,389.46 168,390.02 169,390.55 C170,391.08 171,391.59 172,392.08 C173,392.57 174,393.03 175,393.48 C176,393.93 177,394.36 178,394.77 C179,395.18 180,395.57 181,395.95 C182,396.32 183,396.68 184,397.02 C185,397.36 186,397.69 187,398 C188,398.31 189,398.62 190,398.9 C191,399.18 192,399.45 193,399.71 C194,399.97 195,400.21 196,400.44 C197,400.67 198,400.9 199,401.11 C200,401.32 201,401.53 202,401.72 C203,401.91 204,402.09 205,402.27 C206,402.45 207,402.62 208,402.78 C209,402.94 210,403.1 211,403.25 C212,403.4 213,403.55 214,403.69 C215,403.83 216,403.97 217,404.1 C218,404.23 219,404.36 220,404.49 C221,404.62 222,404.75 223,404.87 C224,405 225,405.12 226,405.24 C227,405.37 228,405.49 229,405.62 C230,405.75 231,405.87 232,406 C233,406.13 234.43,406.32 235,406.4 C235.57,406.48 235.33,406.45 235.4,406.46" stroke="#000" stroke-width="4.8" fill="none" stroke-linecap="butt"/>
<text x="244.5" y="345.5" font-size="11" text-anchor="end" textLength="22" lengthAdjust="spacingAndGlyphs">&gt;40%</text>
<text x="245" y="366.5" font-size="11" text-anchor="end" textLength="31" lengthAdjust="spacingAndGlyphs">30-40%</text>
<text x="245" y="401" font-size="11" text-anchor="end" textLength="29" lengthAdjust="spacingAndGlyphs">15-20%</text>
<text x="244" y="421.5" font-size="11" text-anchor="end" textLength="21" lengthAdjust="spacingAndGlyphs">&lt;10%</text>
<line x1="301.1" y1="255.5" x2="301.1" y2="486.6" stroke="#000" stroke-width="1.6"/>
<line x1="300.3" y1="485.8" x2="492.5" y2="485.8" stroke="#000" stroke-width="1.6"/>
<line x1="491.8" y1="480.8" x2="491.8" y2="486.6" stroke="#000" stroke-width="1.6"/>
<line x1="301.1" y1="439.88" x2="305.6" y2="439.88" stroke="#000" stroke-width="1.5"/>
<line x1="301.1" y1="393.96" x2="305.6" y2="393.96" stroke="#000" stroke-width="1.5"/>
<line x1="301.1" y1="348.04" x2="305.6" y2="348.04" stroke="#000" stroke-width="1.5"/>
<line x1="301.1" y1="302.12" x2="305.6" y2="302.12" stroke="#000" stroke-width="1.5"/>
<line x1="301.1" y1="256.2" x2="305.6" y2="256.2" stroke="#000" stroke-width="1.5"/>
<text x="297.8" y="490.8" font-size="11.5" text-anchor="end" textLength="4.5" lengthAdjust="spacingAndGlyphs">0</text>
<text x="297.8" y="444.88" font-size="11.5" text-anchor="end" textLength="9" lengthAdjust="spacingAndGlyphs">16</text>
<text x="297.8" y="398.96" font-size="11.5" text-anchor="end" textLength="9" lengthAdjust="spacingAndGlyphs">32</text>
<text x="297.8" y="353.04" font-size="11.5" text-anchor="end" textLength="9" lengthAdjust="spacingAndGlyphs">48</text>
<text x="297.8" y="307.12" font-size="11.5" text-anchor="end" textLength="9" lengthAdjust="spacingAndGlyphs">64</text>
<text x="297.8" y="261.2" font-size="11.5" text-anchor="end" textLength="9" lengthAdjust="spacingAndGlyphs">80</text>
<line x1="338.7" y1="310.5" x2="338.7" y2="316.5" stroke="#000" stroke-width="1.5"/>
<line x1="331.7" y1="310.5" x2="345.7" y2="310.5" stroke="#000" stroke-width="1.5"/>
<rect x="322.2" y="317.1" width="33.2" height="168.7" fill="#000" stroke="#000" stroke-width="1.2"/>
<line x1="377.5" y1="330.6" x2="377.5" y2="335.9" stroke="#000" stroke-width="1.5"/>
<line x1="371" y1="330.6" x2="384" y2="330.6" stroke="#000" stroke-width="1.5"/>
<rect x="360.1" y="336.5" width="33.8" height="149.3" fill="#454545" stroke="#000" stroke-width="1.2"/>
<line x1="415.6" y1="356.5" x2="415.6" y2="360.5" stroke="#000" stroke-width="1.5"/>
<line x1="408.6" y1="356.5" x2="422.6" y2="356.5" stroke="#000" stroke-width="1.5"/>
<rect x="398.9" y="361.1" width="33" height="124.7" fill="#9b9b9b" stroke="#000" stroke-width="1.2"/>
<line x1="453" y1="377" x2="453" y2="386" stroke="#000" stroke-width="1.5"/>
<line x1="446" y1="377" x2="460" y2="377" stroke="#000" stroke-width="1.5"/>
<rect x="436.4" y="386.6" width="33.5" height="99.2" fill="#c8c8c8" stroke="#000" stroke-width="1.2"/>
<text x="338.2" y="499.2" font-size="11" text-anchor="middle" textLength="20.4" lengthAdjust="spacingAndGlyphs">&lt;10%</text>
<text x="376.7" y="499.2" font-size="11" text-anchor="middle" textLength="28.6" lengthAdjust="spacingAndGlyphs">15-20%</text>
<text x="414.38" y="499.2" font-size="11" text-anchor="middle" textLength="28.75" lengthAdjust="spacingAndGlyphs">30-40%</text>
<text x="451.75" y="499.2" font-size="11" text-anchor="middle" textLength="21.5" lengthAdjust="spacingAndGlyphs">&gt;40%</text>
<text x="274.5" y="370.5" font-size="11" text-anchor="middle" textLength="123" lengthAdjust="spacingAndGlyphs" transform="rotate(-90 274.5 370.5)">Extent of Contraction (%)</text>
<path d="M337.5,282.5 L337.5,279.5 Q337.5,278 339,278 L451.8,278 Q453.3,278 453.3,279.5 L453.3,282.5" stroke="#000" stroke-width="1.5" fill="none" stroke-linejoin="round"/>
<path d="M337.5,297.5 L337.5,294.5 Q337.5,293 339,293 L413.5,293 Q415,293 415,294.5 L415,297.5" stroke="#000" stroke-width="1.5" fill="none" stroke-linejoin="round"/>
<path d="M376.5,315 L376.5,312 Q376.5,310.5 378,310.5 L452.2,310.5 Q453.7,310.5 453.7,312 L453.7,315" stroke="#000" stroke-width="1.5" fill="none" stroke-linejoin="round"/>
<path d="M376.5,327.5 L376.5,324.5 Q376.5,323 378,323 L418.5,323 Q420,323 420,324.5 L420,327.5" stroke="#000" stroke-width="1.5" fill="none" stroke-linejoin="round"/>
<path d="M414.5,349.5 L414.5,346.5 Q414.5,345 416,345 L456.5,345 Q458,345 458,346.5 L458,349.5" stroke="#000" stroke-width="1.5" fill="none" stroke-linejoin="round"/>
<text x="393.3" y="278" font-size="13" text-anchor="middle" font-weight="bold" font-family='"Liberation Sans", sans-serif'>***</text>
<text x="375.5" y="293.5" font-size="13" text-anchor="middle" font-weight="bold" font-family='"Liberation Sans", sans-serif'>**</text>
<text x="415.5" y="310" font-size="13" text-anchor="middle" font-weight="bold" font-family='"Liberation Sans", sans-serif'>**</text>
<text x="400.3" y="325" font-size="13" text-anchor="middle" font-weight="bold" font-family='"Liberation Sans", sans-serif'>*</text>
<text x="435.5" y="347" font-size="13" text-anchor="middle" font-weight="bold" font-family='"Liberation Sans", sans-serif'>*</text>
<line x1="60.2" y1="515.5" x2="60.2" y2="711.5" stroke="#000" stroke-width="1.6"/>
<line x1="59.4" y1="710.8" x2="221" y2="710.8" stroke="#000" stroke-width="1.6"/>
<line x1="57.8" y1="710.8" x2="60.2" y2="710.8" stroke="#000" stroke-width="1.5"/>
<text x="55.1" y="712.5" font-size="11.5" text-anchor="end" textLength="4.7" lengthAdjust="spacingAndGlyphs">0</text>
<line x1="57.8" y1="645.88" x2="60.2" y2="645.88" stroke="#000" stroke-width="1.5"/>
<text x="55.1" y="649.98" font-size="11.5" text-anchor="end" textLength="14.1" lengthAdjust="spacingAndGlyphs">200</text>
<line x1="57.8" y1="580.96" x2="60.2" y2="580.96" stroke="#000" stroke-width="1.5"/>
<text x="55.1" y="584.76" font-size="11.5" text-anchor="end" textLength="14.1" lengthAdjust="spacingAndGlyphs">400</text>
<line x1="57.8" y1="516.04" x2="60.2" y2="516.04" stroke="#000" stroke-width="1.5"/>
<text x="55.1" y="521.94" font-size="11.5" text-anchor="end" textLength="14.1" lengthAdjust="spacingAndGlyphs">600</text>
<line x1="127.55" y1="710.8" x2="127.55" y2="713.5" stroke="#000" stroke-width="1.5"/>
<line x1="195.3" y1="710.8" x2="195.3" y2="713.5" stroke="#000" stroke-width="1.5"/>
<text x="60.4" y="723" font-size="11.5" text-anchor="middle" textLength="4.6" lengthAdjust="spacingAndGlyphs">0</text>
<text x="127.6" y="723" font-size="11.5" text-anchor="middle" textLength="15" lengthAdjust="spacingAndGlyphs">500</text>
<text x="195.5" y="723" font-size="11.5" text-anchor="middle" textLength="20" lengthAdjust="spacingAndGlyphs">1000</text>
<text x="140.5" y="731" font-size="11" text-anchor="middle" textLength="50" lengthAdjust="spacingAndGlyphs">Time (sec)</text>
<text x="28.7" y="609.5" font-size="11" text-anchor="middle" textLength="80" lengthAdjust="spacingAndGlyphs" transform="rotate(-90 28.7 609.5)">Storage Modulus</text>
<path d="M60,711 C60.42,710.72 61.67,709.92 62.5,709.3 C63.33,708.67 64.17,707.98 65,707.24 C65.83,706.5 66.67,705.7 67.5,704.85 C68.33,704.01 69.17,703.11 70,702.17 C70.83,701.23 71.67,700.25 72.5,699.22 C73.33,698.2 74.17,697.13 75,696.02 C75.83,694.92 76.67,693.78 77.5,692.61 C78.33,691.44 79.17,690.24 80,689.01 C80.83,687.78 81.67,686.52 82.5,685.25 C83.33,683.97 84.17,682.66 85,681.35 C85.83,680.03 86.67,678.69 87.5,677.34 C88.33,675.99 89.17,674.63 90,673.26 C90.83,671.89 91.67,670.5 92.5,669.12 C93.33,667.74 94.17,666.34 95,664.96 C95.83,663.57 96.67,662.18 97.5,660.79 C98.33,659.41 99.17,658.03 100,656.66 C100.83,655.3 101.67,653.93 102.5,652.59 C103.33,651.24 104.17,649.91 105,648.6 C105.83,647.29 106.67,645.99 107.5,644.72 C108.33,643.45 109.17,642.2 110,640.98 C110.83,639.76 111.67,638.56 112.5,637.4 C113.33,636.23 114.17,635.09 115,633.98 C115.83,632.87 116.67,631.78 117.5,630.72 C118.33,629.66 119.17,628.62 120,627.61 C120.83,626.6 121.67,625.62 122.5,624.66 C123.33,623.69 124.17,622.76 125,621.84 C125.83,620.93 126.67,620.04 127.5,619.17 C128.33,618.31 129.17,617.46 130,616.64 C130.83,615.82 131.67,615.02 132.5,614.24 C133.33,613.46 134.17,612.7 135,611.97 C135.83,611.23 136.67,610.51 137.5,609.82 C138.33,609.12 139.17,608.45 140,607.79 C140.83,607.13 141.67,606.5 142.5,605.88 C143.33,605.26 144.17,604.66 145,604.08 C145.83,603.5 146.67,602.93 147.5,602.39 C148.33,601.84 149.17,601.31 150,600.8 C150.83,600.29 151.67,599.79 152.5,599.31 C153.33,598.83 154.17,598.37 155,597.92 C155.83,597.47 156.67,597.04 157.5,596.62 C158.33,596.19 159.17,595.79 160,595.4 C160.83,595 161.67,594.62 162.5,594.26 C163.33,593.89 164.17,593.54 165,593.19 C165.83,592.85 166.67,592.52 167.5,592.2 C168.33,591.88 169.17,591.57 170,591.28 C170.83,590.98 171.67,590.69 172.5,590.41 C173.33,590.13 174.17,589.86 175,589.6 C175.83,589.34 176.67,589.09 177.5,588.85 C178.33,588.6 179.17,588.37 180,588.14 C180.83,587.91 181.67,587.69 182.5,587.47 C183.33,587.26 184.17,587.05 185,586.85 C185.83,586.64 186.67,586.45 187.5,586.25 C188.33,586.06 189.17,585.87 190,585.69 C190.83,585.5 191.67,585.32 192.5,585.14 C193.33,584.97 194.17,584.79 195,584.62 C195.83,584.45 196.67,584.28 197.5,584.11 C198.33,583.94 199.17,583.78 200,583.61 C200.83,583.45 201.67,583.28 202.5,583.12 C203.33,582.96 204.17,582.79 205,582.63 C205.83,582.46 206.67,582.3 207.5,582.13 C208.33,581.96 209.17,581.79 210,581.62 C210.83,581.45 211.67,581.28 212.5,581.1 C213.33,580.92 214.17,580.74 215,580.56 C215.83,580.38 216.67,580.19 217.5,580 C218.33,579.81 219.42,579.55 220,579.41 C220.58,579.27 220.83,579.2 221,579.16" stroke="#2a2a2a" stroke-width="1.8" fill="none"/>
<path d="M60,711 C60.42,710.93 61.67,710.84 62.5,710.59 C63.33,710.35 64.17,709.98 65,709.52 C65.83,709.06 66.67,708.48 67.5,707.81 C68.33,707.14 69.17,706.37 70,705.51 C70.83,704.66 71.67,703.71 72.5,702.69 C73.33,701.67 74.17,700.56 75,699.4 C75.83,698.24 76.67,697 77.5,695.72 C78.33,694.44 79.17,693.1 80,691.73 C80.83,690.36 81.67,688.94 82.5,687.5 C83.33,686.06 84.17,684.58 85,683.09 C85.83,681.6 86.67,680.09 87.5,678.57 C88.33,677.06 89.17,675.53 90,674 C90.83,672.48 91.67,670.95 92.5,669.44 C93.33,667.92 94.17,666.4 95,664.91 C95.83,663.41 96.67,661.92 97.5,660.45 C98.33,658.99 99.17,657.53 100,656.1 C100.83,654.68 101.67,653.26 102.5,651.88 C103.33,650.5 104.17,649.13 105,647.8 C105.83,646.46 106.67,645.15 107.5,643.87 C108.33,642.59 109.17,641.33 110,640.1 C110.83,638.87 111.67,637.67 112.5,636.5 C113.33,635.33 114.17,634.18 115,633.06 C115.83,631.94 116.67,630.85 117.5,629.79 C118.33,628.72 119.17,627.69 120,626.68 C120.83,625.67 121.67,624.68 122.5,623.72 C123.33,622.77 124.17,621.83 125,620.92 C125.83,620.02 126.67,619.13 127.5,618.27 C128.33,617.41 129.17,616.57 130,615.76 C130.83,614.94 131.67,614.15 132.5,613.38 C133.33,612.61 134.17,611.86 135,611.13 C135.83,610.4 136.67,609.69 137.5,609 C138.33,608.31 139.17,607.64 140,606.99 C140.83,606.34 141.67,605.7 142.5,605.08 C143.33,604.47 144.17,603.87 145,603.28 C145.83,602.7 146.67,602.13 147.5,601.58 C148.33,601.02 149.17,600.48 150,599.96 C150.83,599.44 151.67,598.93 152.5,598.43 C153.33,597.93 154.17,597.45 155,596.98 C155.83,596.51 156.67,596.05 157.5,595.61 C158.33,595.16 159.17,594.73 160,594.31 C160.83,593.88 161.67,593.47 162.5,593.07 C163.33,592.67 164.17,592.28 165,591.9 C165.83,591.52 166.67,591.15 167.5,590.78 C168.33,590.42 169.17,590.07 170,589.73 C170.83,589.38 171.67,589.05 172.5,588.72 C173.33,588.39 174.17,588.08 175,587.77 C175.83,587.45 176.67,587.15 177.5,586.86 C178.33,586.56 179.17,586.27 180,585.99 C180.83,585.71 181.67,585.43 182.5,585.16 C183.33,584.9 184.17,584.63 185,584.38 C185.83,584.12 186.67,583.87 187.5,583.63 C188.33,583.38 189.17,583.15 190,582.91 C190.83,582.68 191.67,582.45 192.5,582.23 C193.33,582.01 194.17,581.79 195,581.58 C195.83,581.36 196.67,581.16 197.5,580.95 C198.33,580.75 199.17,580.55 200,580.36 C200.83,580.16 201.67,579.97 202.5,579.79 C203.33,579.6 204.17,579.42 205,579.24 C205.83,579.06 206.67,578.89 207.5,578.72 C208.33,578.55 209.17,578.38 210,578.22 C210.83,578.05 211.67,577.89 212.5,577.74 C213.33,577.58 214.17,577.43 215,577.28 C215.83,577.13 216.67,576.98 217.5,576.84 C218.33,576.69 219.42,576.51 220,576.41 C220.58,576.31 220.83,576.27 221,576.25" stroke="#8c8c8c" stroke-width="3" fill="none"/>
<path d="M60,712 C60.42,712.12 61.67,712.64 62.5,712.72 C63.33,712.8 64.17,712.71 65,712.49 C65.83,712.27 66.67,711.89 67.5,711.4 C68.33,710.9 69.17,710.27 70,709.52 C70.83,708.78 71.67,707.91 72.5,706.95 C73.33,706 74.17,704.92 75,703.77 C75.83,702.62 76.67,701.37 77.5,700.06 C78.33,698.74 79.17,697.34 80,695.9 C80.83,694.45 81.67,692.93 82.5,691.37 C83.33,689.82 84.17,688.2 85,686.57 C85.83,684.93 86.67,683.25 87.5,681.57 C88.33,679.88 89.17,678.16 90,676.45 C90.83,674.74 91.67,673.02 92.5,671.31 C93.33,669.6 94.17,667.89 95,666.22 C95.83,664.54 96.67,662.88 97.5,661.26 C98.33,659.65 99.17,658.06 100,656.51 C100.83,654.97 101.67,653.46 102.5,651.98 C103.33,650.5 104.17,649.06 105,647.65 C105.83,646.24 106.67,644.87 107.5,643.52 C108.33,642.18 109.17,640.87 110,639.59 C110.83,638.31 111.67,637.06 112.5,635.85 C113.33,634.63 114.17,633.44 115,632.29 C115.83,631.13 116.67,630 117.5,628.9 C118.33,627.8 119.17,626.73 120,625.68 C120.83,624.64 121.67,623.62 122.5,622.63 C123.33,621.63 124.17,620.67 125,619.73 C125.83,618.78 126.67,617.87 127.5,616.97 C128.33,616.08 129.17,615.21 130,614.36 C130.83,613.51 131.67,612.68 132.5,611.87 C133.33,611.07 134.17,610.28 135,609.52 C135.83,608.75 136.67,608 137.5,607.28 C138.33,606.55 139.17,605.84 140,605.15 C140.83,604.45 141.67,603.78 142.5,603.12 C143.33,602.46 144.17,601.82 145,601.19 C145.83,600.56 146.67,599.95 147.5,599.35 C148.33,598.74 149.17,598.16 150,597.58 C150.83,597.01 151.67,596.45 152.5,595.9 C153.33,595.35 154.17,594.81 155,594.28 C155.83,593.76 156.67,593.24 157.5,592.74 C158.33,592.23 159.17,591.74 160,591.26 C160.83,590.77 161.67,590.3 162.5,589.84 C163.33,589.38 164.17,588.93 165,588.49 C165.83,588.05 166.67,587.61 167.5,587.19 C168.33,586.77 169.17,586.36 170,585.96 C170.83,585.55 171.67,585.16 172.5,584.77 C173.33,584.39 174.17,584.01 175,583.64 C175.83,583.27 176.67,582.91 177.5,582.56 C178.33,582.21 179.17,581.86 180,581.53 C180.83,581.19 181.67,580.86 182.5,580.54 C183.33,580.22 184.17,579.9 185,579.59 C185.83,579.28 186.67,578.98 187.5,578.69 C188.33,578.39 189.17,578.1 190,577.82 C190.83,577.54 191.67,577.26 192.5,576.99 C193.33,576.71 194.17,576.45 195,576.19 C195.83,575.92 196.67,575.67 197.5,575.42 C198.33,575.16 199.17,574.92 200,574.67 C200.83,574.43 201.67,574.19 202.5,573.96 C203.33,573.72 204.17,573.49 205,573.27 C205.83,573.04 206.67,572.82 207.5,572.59 C208.33,572.37 209.17,572.16 210,571.94 C210.83,571.73 211.67,571.51 212.5,571.3 C213.33,571.09 214.17,570.89 215,570.68 C215.83,570.47 216.67,570.27 217.5,570.07 C218.33,569.86 219.42,569.6 220,569.46 C220.58,569.32 220.83,569.26 221,569.22" stroke="#d2d2d2" stroke-width="3.6" fill="none"/>
<path d="M60,710.8 C60.67,710.53 62.1,710.83 64,709.2 C65.9,707.57 68.77,704.45 71.4,701 C74.03,697.55 77.43,692.83 79.8,688.5 C82.17,684.17 83.67,679.82 85.6,675 C87.53,670.18 89.47,664.73 91.4,659.6 C93.33,654.47 95.28,649 97.2,644.2 C99.12,639.4 100.82,635.12 102.9,630.8 C104.98,626.48 107.45,622.07 109.7,618.3 C111.95,614.53 114.17,611.33 116.4,608.2 C118.63,605.07 120.83,602.37 123.1,599.5 C125.37,596.63 126.77,594.48 130,591 C133.23,587.52 138.33,582.33 142.5,578.6 C146.67,574.87 150.42,571.87 155,568.6 C159.58,565.33 165,561.87 170,559 C175,556.13 180,553.65 185,551.4 C190,549.15 195.42,547.11 200,545.5 C204.58,543.89 209,542.75 212.5,541.75 C216,540.75 219.58,539.88 221,539.5" stroke="#000" stroke-width="3.1" fill="none"/>
<text x="201.5" y="536.5" font-size="13" text-anchor="middle" font-weight="bold" font-family='"Liberation Sans", sans-serif'>***</text>
<text x="237.7" y="539.8" font-size="11" text-anchor="end" textLength="12.7" lengthAdjust="spacingAndGlyphs">0%</text>
<text x="225" y="564" font-size="11" text-anchor="end" textLength="22" lengthAdjust="spacingAndGlyphs">&gt;40%</text>
<text x="226.7" y="595" font-size="11" text-anchor="end" textLength="29" lengthAdjust="spacingAndGlyphs">15-20%</text>
<text x="226.7" y="609.5" font-size="11" text-anchor="end" textLength="21.7" lengthAdjust="spacingAndGlyphs">&lt;10%</text>
<line x1="279.9" y1="513" x2="279.9" y2="709.7" stroke="#000" stroke-width="1.6"/>
<line x1="279.1" y1="709" x2="452.5" y2="709" stroke="#000" stroke-width="1.6"/>
<line x1="277.3" y1="707.6" x2="279.9" y2="707.6" stroke="#000" stroke-width="1.5"/>
<text x="273.2" y="708.6" font-size="11.5" text-anchor="end" textLength="16.5" lengthAdjust="spacingAndGlyphs">0.03</text>
<line x1="277.3" y1="643" x2="279.9" y2="643" stroke="#000" stroke-width="1.5"/>
<text x="275.2" y="648" font-size="11.5" text-anchor="end" textLength="16.5" lengthAdjust="spacingAndGlyphs">0.04</text>
<line x1="277.3" y1="578.4" x2="279.9" y2="578.4" stroke="#000" stroke-width="1.5"/>
<text x="275.2" y="582.7" font-size="11.5" text-anchor="end" textLength="16.5" lengthAdjust="spacingAndGlyphs">0.05</text>
<line x1="277.3" y1="513.8" x2="279.9" y2="513.8" stroke="#000" stroke-width="1.5"/>
<text x="275.2" y="518.6" font-size="11.5" text-anchor="end" textLength="16.5" lengthAdjust="spacingAndGlyphs">0.06</text>
<line x1="364.98" y1="709" x2="364.98" y2="711.5" stroke="#000" stroke-width="1.5"/>
<line x1="450.66" y1="709" x2="450.66" y2="711.5" stroke="#000" stroke-width="1.5"/>
<text x="282.6" y="723.8" font-size="11.5" text-anchor="middle" textLength="15.7" lengthAdjust="spacingAndGlyphs">400</text>
<text x="365.3" y="723.8" font-size="11.5" text-anchor="middle" textLength="16" lengthAdjust="spacingAndGlyphs">800</text>
<text x="449.7" y="723.8" font-size="11.5" text-anchor="middle" textLength="20" lengthAdjust="spacingAndGlyphs">1200</text>
<text x="369" y="733.2" font-size="11" text-anchor="middle" textLength="50.7" lengthAdjust="spacingAndGlyphs">Time (sec)</text>
<text x="250.7" y="607" font-size="11" text-anchor="middle" textLength="26" lengthAdjust="spacingAndGlyphs" transform="rotate(-90 250.7 607)">Tan δ</text>
<path d="M280.6,593.61 V593.61 H283.12 V587.49 H285.96 V585.35 H288.84 V595.11 H290.93 V595.83 H292.95 V595.7 H296.12 V596.81 H298.49 V598.94 H300.81 V605.99 H304.21 V602.16 H306.87 V603.69 H310.04 V602.43 H312.7 V608.14 H315.6 V605.3 H317.81 V616.38 H320.7 V617.05 H323.91 V615.02 H326.65 V618.51 H329.68 V612.31 H332.62 V616.51 H334.71 V614.02 H337.77 V618.33 H340.6 V619.55 H343.02 V624.69 H345.07 V626.54 H348.28 V627.47 H350.94 V618.98 H353.95 V623.39 H357.18 V626.47 H360.18 V621.57 H363.47 V622.81 H366.02 V626.75 H369.14 V630.42 H371.76 V625.33 H375.07 V631.09 H378.3 V628.34 H380.44 V627.67 H382.63 V626.73 H384.93 V628.99 H388.29 V629.44 H390.9 V632.03 H393.77 V631.42 H396.2 V637.07 H398.91 V628.42 H401.45 V628.2 H403.94 V632.99 H406.76 V635.87 H409.57 V634.46 H412.84 V642.99 H415.79 V636.2 H419.1 V634.36 H422.29 V638.89 H425.68 V632.82 H428.62 V631.35 H430.85 V640.42 H434.05 V636.88 H437.4 V639.67 H440.67 V635.23 H443.47 V638.77 H446.47 V630.62 H448.76 V637.84 H451.93 V639.8 H452 V655.67 H451.93 V650.37 H448.76 V649.54 H446.47 V650.22 H443.47 V652.96 H440.67 V655.74 H437.4 V653.45 H434.05 V656.06 H430.85 V646.81 H428.62 V648.28 H425.68 V649.7 H422.29 V653.49 H419.1 V651.49 H415.79 V657.32 H412.84 V654.31 H409.57 V652.27 H406.76 V649.77 H403.94 V642.1 H401.45 V647.62 H398.91 V647.51 H396.2 V648.84 H393.77 V647.11 H390.9 V647.08 H388.29 V645.7 H384.93 V641.4 H382.63 V644.27 H380.44 V640.79 H378.3 V640.02 H375.07 V642.97 H371.76 V642.21 H369.14 V643.17 H366.02 V641.34 H363.47 V635.64 H360.18 V640.9 H357.18 V637.53 H353.95 V633.89 H350.94 V638.35 H348.28 V640.29 H345.07 V639.76 H343.02 V634.11 H340.6 V632.35 H337.77 V627.58 H334.71 V626.65 H332.62 V632.2 H329.68 V632.66 H326.65 V631.54 H323.91 V631.35 H320.7 V626.67 H317.81 V619.93 H315.6 V622.49 H312.7 V617.1 H310.04 V619.99 H306.87 V613.56 H304.21 V616.51 H300.81 V622.25 H298.49 V610.88 H296.12 V608.09 H292.95 V609.37 H290.93 V604.16 H288.84 V600.55 H285.96 V607.3 H283.12 V608.64 H280.6 Z" fill="#000"/>
<path d="M280.6,590.84 V590.84 H282.68 V590.64 H284.8 V592.15 H287.97 V586.73 H291 V589.64 H293.94 V591.87 H296.37 V595.13 H299.22 V589.22 H302.06 V590.13 H304.88 V596.43 H307.1 V593.07 H309.7 V593.51 H312.25 V591.67 H315.27 V601.43 H318.66 V598.82 H321.99 V599.07 H324.75 V608.42 H327.37 V610.22 H329.75 V603.15 H331.8 V610.26 H333.84 V611.84 H336.49 V602.96 H338.93 V603.86 H341.47 V610.15 H344.71 V609.8 H347.45 V614.44 H350.24 V611.99 H352.57 V616.36 H354.6 V614.93 H357.05 V615.99 H359.25 V607.66 H361.96 V612.35 H365.36 V612.26 H368.3 V620.55 H370.56 V625.95 H373.81 V619.31 H376.92 V623.08 H379.95 V619.07 H383.22 V618.31 H386.29 V614.49 H389.39 V620.25 H391.89 V625.07 H395.26 V626.75 H398.61 V629.38 H400.84 V624.84 H403.89 V625.97 H406.89 V624.13 H409.54 V628.99 H412.28 V628.26 H414.97 V621.31 H418.26 V630.29 H420.96 V634.99 H424.13 V629.47 H426.62 V624.23 H429.86 V624.18 H433.12 V628.33 H435.76 V630.34 H438.56 V632.38 H441.85 V628.87 H444.86 V633.17 H447.54 V636.22 H449.85 V632.22 H452 V649.31 H449.85 V645.68 H447.54 V644.1 H444.86 V643.84 H441.85 V646.61 H438.56 V639.58 H435.76 V637.35 H433.12 V638.66 H429.86 V640.58 H426.62 V645.48 H424.13 V647.6 H420.96 V645.18 H418.26 V644.38 H414.97 V636.65 H412.28 V644.29 H409.54 V639.22 H406.89 V636.46 H403.89 V639.06 H400.84 V639.84 H398.61 V636.2 H395.26 V645.93 H391.89 V634.95 H389.39 V637.13 H386.29 V640.41 H383.22 V640.44 H379.95 V638.69 H376.92 V640.27 H373.81 V634.27 H370.56 V631.06 H368.3 V631.36 H365.36 V626.09 H361.96 V625.74 H359.25 V631.83 H357.05 V632.93 H354.6 V628.76 H352.57 V630.8 H350.24 V624.13 H347.45 V630.97 H344.71 V623.07 H341.47 V623.84 H338.93 V622.03 H336.49 V620.22 H333.84 V618.14 H331.8 V616.84 H329.75 V618.12 H327.37 V619.53 H324.75 V614.9 H321.99 V614.1 H318.66 V614.68 H315.27 V611.35 H312.25 V606.33 H309.7 V617.49 H307.1 V617.6 H304.88 V614.11 H302.06 V603.69 H299.22 V611.47 H296.37 V598.75 H293.94 V598.44 H291 V602.04 H287.97 V602.02 H284.8 V600.2 H282.68 V598.36 H280.6 Z" fill="#a6a6a6"/>
<path d="M280.6,591.1 V591.1 H283.15 V590.94 H285.37 V589.65 H287.46 V593.33 H290.03 V595.07 H293.31 V602.28 H296.43 V602.32 H299.5 V602.76 H301.81 V608.22 H304.57 V608.63 H306.95 V601.91 H309.19 V599.37 H311.34 V602.57 H313.64 V613.63 H316.94 V610.11 H320.1 V619.4 H323.23 V617.84 H326.35 V615.81 H328.62 V618.27 H331.06 V619.11 H333.94 V613.34 H336.96 V614.86 H340.16 V627 H343.39 V621.56 H345.51 V625.95 H348.36 V628.47 H351.3 V624.04 H354.01 V624.55 H356.26 V626.46 H358.92 V626.9 H361.04 V633.14 H364.35 V631.39 H367.56 V630.73 H370.33 V635.59 H372.75 V632.89 H376.02 V631.94 H378.82 V634.06 H382.06 V635.81 H385.25 V635.62 H387.96 V641.69 H390.54 V634.28 H393.38 V631.21 H395.98 V638.64 H398.21 V640.93 H400.63 V637.15 H403.77 V629.03 H405.83 V638.42 H407.9 V635.42 H410.77 V636.52 H413.17 V639.18 H415.91 V645.8 H418.57 V645.57 H421.05 V640.42 H424.45 V631.1 H426.72 V637.03 H429.3 V641.59 H431.59 V643.57 H434.47 V643.37 H436.86 V640.55 H439.36 V643.04 H442.4 V634.55 H444.85 V636.95 H447.63 V639.56 H450.9 V640.28 H452 V657.34 H450.9 V660.71 H447.63 V662.23 H444.85 V656.01 H442.4 V666.59 H439.36 V662.41 H436.86 V661.04 H434.47 V656.86 H431.59 V658.32 H429.3 V659.63 H426.72 V660.05 H424.45 V652.98 H421.05 V658.5 H418.57 V662.99 H415.91 V657.15 H413.17 V659 H410.77 V659.17 H407.9 V653.74 H405.83 V658.1 H403.77 V650.92 H400.63 V659.68 H398.21 V653.99 H395.98 V657.32 H393.38 V663.46 H390.54 V653.61 H387.96 V657.7 H385.25 V655.25 H382.06 V653.58 H378.82 V644.57 H376.02 V654.91 H372.75 V655.53 H370.33 V648.62 H367.56 V646.94 H364.35 V646.01 H361.04 V642.57 H358.92 V637.91 H356.26 V643.81 H354.01 V642.87 H351.3 V642.26 H348.36 V640.48 H345.51 V642.43 H343.39 V642.25 H340.16 V636.39 H336.96 V636.95 H333.94 V633.04 H331.06 V632.97 H328.62 V634.05 H326.35 V644.23 H323.23 V638.41 H320.1 V637.66 H316.94 V633.36 H313.64 V622.65 H311.34 V627.81 H309.19 V619.28 H306.95 V626.41 H304.57 V625.97 H301.81 V624.66 H299.5 V628.82 H296.43 V622.1 H293.31 V618.5 H290.03 V614.13 H287.46 V612.48 H285.37 V615.89 H283.15 V610.4 H280.6 Z" fill="#3b3b3b"/>
<path d="M280.6,525.18 V525.18 H283.67 V522.57 H286.03 V529.6 H288.72 V530.9 H291.35 V526.65 H294.26 V538.03 H297.37 V536.25 H299.5 V542.86 H301.54 V541.66 H304.71 V543.48 H307.31 V544.96 H310.38 V550.26 H312.38 V548.94 H315.01 V556.44 H318.02 V555.58 H320.34 V556.7 H323.66 V561.58 H326.92 V559.97 H328.97 V565.42 H331 V559.63 H333.76 V560.61 H337.07 V563.89 H339.61 V567.74 H341.91 V571.51 H344.5 V576.88 H346.54 V578.19 H348.85 V575.72 H351.47 V575.11 H354.16 V569.87 H356.49 V574.73 H358.81 V573.44 H361.12 V573.81 H363.76 V578.65 H366.16 V583.48 H368.19 V579.65 H371.37 V587.22 H374.15 V584.96 H377.05 V583.1 H379.31 V584.92 H382.7 V580.56 H385.9 V582.56 H388.07 V587.42 H390.53 V594.89 H393.54 V593.28 H396.54 V590.31 H399.85 V588.81 H402.44 V590.33 H405.6 V588.86 H408.54 V589.89 H410.97 V590.23 H413.79 V593.39 H417.03 V598.12 H420.21 V594.84 H422.92 V597.03 H425.74 V587.76 H427.79 V588.19 H430.13 V594.44 H433.25 V597.88 H435.83 V600.6 H438.07 V596.12 H440.84 V601.69 H443.82 V594.8 H446.77 V594.93 H449.29 V601.03 H451.9 V594.02 H452 V611.84 H451.9 V613.4 H449.29 V608.76 H446.77 V609.54 H443.82 V616.54 H440.84 V618.48 H438.07 V612.43 H435.83 V606.86 H433.25 V608.99 H430.13 V605.85 H427.79 V606.85 H425.74 V612.08 H422.92 V606.79 H420.21 V608.18 H417.03 V605.3 H413.79 V610.19 H410.97 V601.03 H408.54 V604.99 H405.6 V600.12 H402.44 V608.19 H399.85 V605.84 H396.54 V602.84 H393.54 V606.05 H390.53 V596.85 H388.07 V602.99 H385.9 V597.12 H382.7 V599.79 H379.31 V591.37 H377.05 V602.37 H374.15 V601.82 H371.37 V599.99 H368.19 V593.34 H366.16 V590.55 H363.76 V586.6 H361.12 V582.85 H358.81 V590.93 H356.49 V592.51 H354.16 V589.09 H351.47 V583.66 H348.85 V593.23 H346.54 V585.13 H344.5 V580.73 H341.91 V576.57 H339.61 V575.55 H337.07 V573.9 H333.76 V572.23 H331 V577.89 H328.97 V574.69 H326.92 V573.33 H323.66 V568.78 H320.34 V574.05 H318.02 V565.36 H315.01 V560.16 H312.38 V561.64 H310.38 V559.82 H307.31 V557.37 H304.71 V554.21 H301.54 V553.17 H299.5 V553.07 H297.37 V547.9 H294.26 V541.28 H291.35 V542.03 H288.72 V543.6 H286.03 V536.36 H283.67 V539.52 H280.6 Z" fill="#d3d3d3"/>
<text x="476" y="610.5" font-size="11" text-anchor="end" textLength="21" lengthAdjust="spacingAndGlyphs">&gt;40%</text>
<text x="480" y="640" font-size="11" text-anchor="end" textLength="27.5" lengthAdjust="spacingAndGlyphs">15-20%</text>
<text x="478.7" y="653.8" font-size="11" text-anchor="end" textLength="11.2" lengthAdjust="spacingAndGlyphs">0%</text>
<text x="481" y="668.5" font-size="11" text-anchor="end" textLength="21" lengthAdjust="spacingAndGlyphs">&lt;10%</text>
<line x1="53.7" y1="742.3" x2="53.7" y2="914.3" stroke="#000" stroke-width="1.9"/>
<line x1="49.5" y1="914.3" x2="57.5" y2="914.3" stroke="#000" stroke-width="1.5"/>
<line x1="49.5" y1="925.5" x2="57.5" y2="925.5" stroke="#000" stroke-width="1.5"/>
<line x1="53.7" y1="925.5" x2="53.7" y2="940.7" stroke="#000" stroke-width="1.9"/>
<line x1="52.9" y1="940" x2="239" y2="940" stroke="#000" stroke-width="1.6"/>
<line x1="49.5" y1="857.2" x2="53.7" y2="857.2" stroke="#000" stroke-width="1.5"/>
<line x1="49.5" y1="800.1" x2="53.7" y2="800.1" stroke="#000" stroke-width="1.5"/>
<line x1="49.5" y1="743" x2="53.7" y2="743" stroke="#000" stroke-width="1.5"/>
<line x1="49.5" y1="940" x2="53.7" y2="940" stroke="#000" stroke-width="1.5"/>
<line x1="55.25" y1="940" x2="55.25" y2="944.6" stroke="#000" stroke-width="1.5"/>
<line x1="130.75" y1="940" x2="130.75" y2="944.6" stroke="#000" stroke-width="1.5"/>
<line x1="206.25" y1="940" x2="206.25" y2="944.6" stroke="#000" stroke-width="1.5"/>
<text x="48.7" y="747" font-size="11.5" text-anchor="end" textLength="17.7" lengthAdjust="spacingAndGlyphs">100</text>
<text x="48.7" y="804.1" font-size="11.5" text-anchor="end" textLength="11.2" lengthAdjust="spacingAndGlyphs">80</text>
<text x="48.7" y="861.2" font-size="11.5" text-anchor="end" textLength="11.2" lengthAdjust="spacingAndGlyphs">60</text>
<text x="48.7" y="918.3" font-size="11.5" text-anchor="end" textLength="11.2" lengthAdjust="spacingAndGlyphs">40</text>
<text x="46.5" y="930" font-size="11.5" text-anchor="end" textLength="5" lengthAdjust="spacingAndGlyphs">5</text>
<text x="46.5" y="944" font-size="11.5" text-anchor="end" textLength="5" lengthAdjust="spacingAndGlyphs">0</text>
<text x="55.25" y="956.5" font-size="11.5" text-anchor="middle" textLength="5.5" lengthAdjust="spacingAndGlyphs">0</text>
<text x="130.75" y="956.5" font-size="11.5" text-anchor="middle" textLength="17" lengthAdjust="spacingAndGlyphs">500</text>
<text x="206.25" y="956.5" font-size="11.5" text-anchor="middle" textLength="21.5" lengthAdjust="spacingAndGlyphs">1000</text>
<text x="140.4" y="965.6" font-size="11" text-anchor="middle" textLength="48.5" lengthAdjust="spacingAndGlyphs">Time (sec)</text>
<text x="27.7" y="835" font-size="11" text-anchor="middle" textLength="107" lengthAdjust="spacingAndGlyphs" transform="rotate(-90 27.7 835)">Relative Clot Size (%)</text>
<path d="M53.5,742.5 C55.08,745.07 59.83,754.03 63,757.9 C66.17,761.77 69.47,762.67 72.5,765.7 C75.53,768.73 78.32,772.07 81.2,776.1 C84.08,780.13 86.92,785 89.8,789.9 C92.68,794.8 95.62,800.3 98.5,805.5 C101.38,810.7 104.22,816.2 107.1,821.1 C109.98,826 112.92,830.87 115.8,834.9 C118.68,838.93 121.52,842.12 124.4,845.3 C127.28,848.48 130.5,851.63 133.1,854 C135.7,856.37 137.08,857.13 140,859.5 C142.92,861.87 147.07,865.63 150.6,868.2 C154.13,870.77 157.68,872.9 161.2,874.9 C164.72,876.9 168.18,878.52 171.7,880.2 C175.22,881.88 178.77,883.52 182.3,885 C185.83,886.48 189.37,887.78 192.9,889.1 C196.43,890.42 199.98,891.65 203.5,892.9 C207.02,894.15 210.48,895.4 214,896.6 C217.52,897.8 221.07,898.95 224.6,900.1 C228.13,901.25 231.5,902.33 235.2,903.5 C238.9,904.67 244.87,906.5 246.8,907.1" stroke="#000" stroke-width="1.8" fill="none"/>
<path d="M53.5,742.5 L58.5,748.5 L63.8,754.4 L68.5,759.5 L74.2,763.6 L78,765 L82.9,765.7 L87,768.5 L91.5,774.3 L101.9,786.5 L112.3,798.6 L121,807.2 L129.6,817.6 L134,821.5 L140,824.5 L150,828 L158.75,828.75 L170,833.75 L180,839.5 L190,840.5 L198.75,842 L207.7,845.3 L216.25,846.75 L225,848.75 L237.5,851.25 L246.8,853.5" stroke="#777" stroke-width="3.4" fill="none" stroke-linejoin="round"/>
<text x="242.5" y="828.5" font-size="11.5" text-anchor="end" textLength="36.5" lengthAdjust="spacingAndGlyphs">Sickle Cell</text>
<text x="241" y="842.5" font-size="11.5" text-anchor="end" textLength="28" lengthAdjust="spacingAndGlyphs">Patients</text>
<text x="238.75" y="897.5" font-size="11.5" text-anchor="end" textLength="28.25" lengthAdjust="spacingAndGlyphs">Control</text>
<line x1="281.9" y1="740" x2="281.9" y2="948.7" stroke="#000" stroke-width="1.6"/>
<line x1="281.1" y1="948" x2="518.5" y2="948" stroke="#000" stroke-width="1.6"/>
<line x1="518.5" y1="946" x2="518.5" y2="950" stroke="#000" stroke-width="1.5"/>
<line x1="281.9" y1="913.41" x2="286.3" y2="913.41" stroke="#000" stroke-width="1.5"/>
<line x1="281.9" y1="878.82" x2="286.3" y2="878.82" stroke="#000" stroke-width="1.5"/>
<line x1="281.9" y1="844.23" x2="286.3" y2="844.23" stroke="#000" stroke-width="1.5"/>
<line x1="281.9" y1="809.64" x2="286.3" y2="809.64" stroke="#000" stroke-width="1.5"/>
<line x1="281.9" y1="775.05" x2="286.3" y2="775.05" stroke="#000" stroke-width="1.5"/>
<line x1="281.9" y1="740.46" x2="286.3" y2="740.46" stroke="#000" stroke-width="1.5"/>
<text x="279.3" y="952.3" font-size="11.5" text-anchor="end" textLength="5.6" lengthAdjust="spacingAndGlyphs">0</text>
<text x="279.3" y="917.71" font-size="11.5" text-anchor="end" textLength="9.5" lengthAdjust="spacingAndGlyphs">10</text>
<text x="279.3" y="883.12" font-size="11.5" text-anchor="end" textLength="9.5" lengthAdjust="spacingAndGlyphs">20</text>
<text x="279.3" y="848.53" font-size="11.5" text-anchor="end" textLength="9.5" lengthAdjust="spacingAndGlyphs">30</text>
<text x="279.3" y="813.94" font-size="11.5" text-anchor="end" textLength="9.5" lengthAdjust="spacingAndGlyphs">40</text>
<text x="279.3" y="779.35" font-size="11.5" text-anchor="end" textLength="9.5" lengthAdjust="spacingAndGlyphs">50</text>
<text x="279.3" y="744.76" font-size="11.5" text-anchor="end" textLength="9.5" lengthAdjust="spacingAndGlyphs">60</text>
<rect x="292" y="768" width="84" height="180" fill="#000"/>
<rect x="385.6" y="824.8" width="82" height="123" fill="#474747" stroke="#000" stroke-width="1.2"/>
<line x1="335" y1="760" x2="335" y2="768" stroke="#000" stroke-width="1.6"/>
<line x1="329.5" y1="760" x2="342" y2="760" stroke="#000" stroke-width="1.6"/>
<line x1="431.3" y1="812" x2="431.3" y2="824.5" stroke="#000" stroke-width="1.6"/>
<line x1="425" y1="812" x2="438" y2="812" stroke="#000" stroke-width="1.6"/>
<path d="M332.8,755 L332.8,752 Q332.8,750.5 334.3,750.5 L430.5,750.5 Q432,750.5 432,752 L432,755" stroke="#000" stroke-width="1.5" fill="none" stroke-linejoin="round"/>
<text x="382.5" y="750.3" font-size="13" text-anchor="middle" font-weight="bold" font-family='"Liberation Sans", sans-serif'>****</text>
<text x="334.3" y="960.2" font-size="11.5" text-anchor="middle" textLength="27" lengthAdjust="spacingAndGlyphs" style="stroke-width:0.55px">Control</text>
<text x="427.7" y="961.6" font-size="11.5" text-anchor="middle" textLength="69.5" lengthAdjust="spacingAndGlyphs" style="stroke-width:0.55px">Sickle Cell Patients</text>
<text x="263.5" y="842.6" font-size="11" text-anchor="middle" textLength="126" lengthAdjust="spacingAndGlyphs" transform="rotate(-90 263.5 842.6)">Extent of Contraction (%)</text>
</svg>
</body></html>
